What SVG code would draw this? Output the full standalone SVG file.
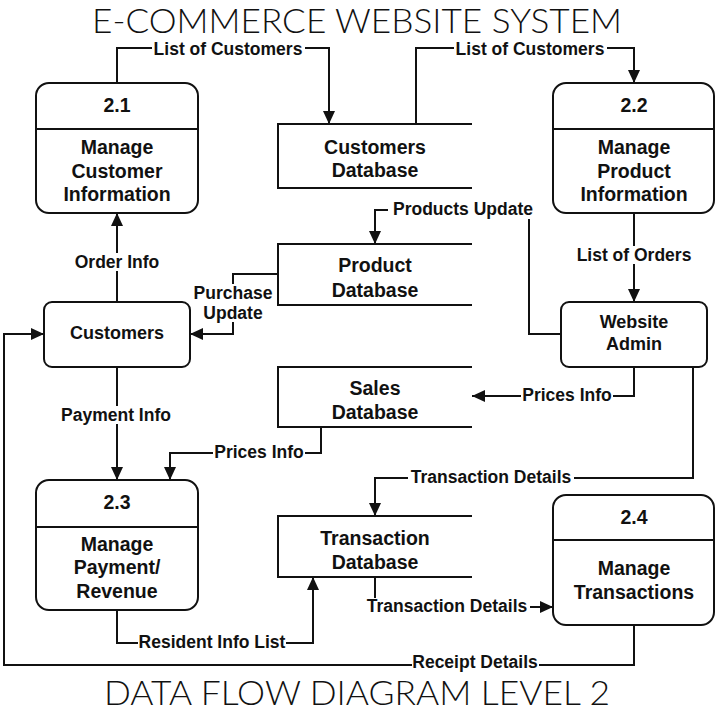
<svg xmlns="http://www.w3.org/2000/svg" width="720" height="720" viewBox="0 0 720 720">
<style>
.box{fill:#fff;stroke:#111;stroke-width:2}
.db{fill:none;stroke:#111;stroke-width:2}
.t{font-family:"Liberation Sans",Arial,sans-serif;font-weight:bold;font-size:19.5px;fill:#111;text-anchor:middle}
.e{font-size:18px}
.lbl{font-family:"Liberation Sans",Arial,sans-serif;font-weight:bold;font-size:17.5px;fill:#111;text-anchor:middle}
.bg{fill:#fff}
.c{fill:none;stroke:#111;stroke-width:2}
.title{font-family:Lato,"Open Sans","Noto Sans",sans-serif;font-weight:300;font-size:34px;fill:#111;text-anchor:middle}
</style>
<defs>
<marker id="ar" markerUnits="userSpaceOnUse" markerWidth="14" markerHeight="12" refX="13" refY="6" orient="auto">
<path d="M0,0 L13,6 L0,12 z" fill="#111"/>
</marker>
</defs>
<rect width="720" height="720" fill="#fff"/>
<text class="title" x="357" y="33" textLength="530" lengthAdjust="spacingAndGlyphs">E-COMMERCE WEBSITE SYSTEM</text>
<text class="title" x="357" y="705" textLength="506" lengthAdjust="spacingAndGlyphs">DATA FLOW DIAGRAM LEVEL 2</text>

<g id="connectors">
<path class="c" d="M117,83 V48 H329 V124" marker-end="url(#ar)"/>
<path class="c" d="M416,124 V48 H634 V83" marker-end="url(#ar)"/>
<path class="c" d="M561,334 H529 V210 H375 V244" marker-end="url(#ar)"/>
<path class="c" d="M634,213 V302" marker-end="url(#ar)"/>
<path class="c" d="M117,302 V213" marker-end="url(#ar)"/>
<path class="c" d="M278,274 H233 V334 H190" marker-end="url(#ar)"/>
<path class="c" d="M117,367 V480" marker-end="url(#ar)"/>
<path class="c" d="M634,367 V396 H472" marker-end="url(#ar)"/>
<path class="c" d="M321,427 V453 H170 V480" marker-end="url(#ar)"/>
<path class="c" d="M693,367 V478 H375 V516" marker-end="url(#ar)"/>
<path class="c" d="M375,577 V607 H553" marker-end="url(#ar)"/>
<path class="c" d="M117,610 V643 H313 V577" marker-end="url(#ar)"/>
<path class="c" d="M634,625 V665 H4 V334 H44" marker-end="url(#ar)"/>
<rect class="bg" x="152" y="40" width="153" height="17"/>
<rect class="bg" x="454" y="40" width="153" height="17"/>
<rect class="bg" x="388" y="202" width="150" height="17"/>
<rect class="bg" x="575" y="246" width="118" height="18"/>
<rect class="bg" x="73" y="253" width="88" height="18"/>
<rect class="bg" x="192" y="284" width="83" height="38"/>
<rect class="bg" x="60" y="406" width="113" height="18"/>
<rect class="bg" x="521" y="388" width="92" height="17"/>
<rect class="bg" x="213" y="445" width="92" height="17"/>
<rect class="bg" x="408" y="470" width="166" height="17"/>
<rect class="bg" x="364" y="598" width="166" height="18"/>
<rect class="bg" x="138" y="634" width="148" height="17"/>
<rect class="bg" x="412" y="655" width="127" height="17"/>
<text class="lbl" x="228" y="54.5">List of Customers</text>
<text class="lbl" x="530" y="54.5">List of Customers</text>
<text class="lbl" x="463" y="215">Products Update</text>
<text class="lbl" x="634" y="261">List of Orders</text>
<text class="lbl" x="117" y="268">Order Info</text>
<text class="lbl" x="233" y="299">Purchase</text>
<text class="lbl" x="233" y="319">Update</text>
<text class="lbl" x="116" y="421">Payment Info</text>
<text class="lbl" x="567" y="401">Prices Info</text>
<text class="lbl" x="259" y="458">Prices Info</text>
<text class="lbl" x="491" y="483">Transaction Details</text>
<text class="lbl" x="447" y="612">Transaction Details</text>
<text class="lbl" x="212" y="648">Resident Info List</text>
<text class="lbl" x="475" y="668">Receipt Details</text>
</g>

<g id="p21">
<rect class="box" x="36" y="83" width="162" height="130" rx="13"/>
<line class="db" x1="36" y1="129" x2="198" y2="129"/>
<text class="t" x="117" y="112">2.1</text>
<text class="t" x="117" y="154">Manage</text>
<text class="t" x="117" y="178">Customer</text>
<text class="t" x="117" y="201">Information</text>
</g>
<g id="p22">
<rect class="box" x="553" y="83" width="161" height="130" rx="13"/>
<line class="db" x1="553" y1="129" x2="714" y2="129"/>
<text class="t" x="634" y="112">2.2</text>
<text class="t" x="634" y="154">Manage</text>
<text class="t" x="634" y="178">Product</text>
<text class="t" x="634" y="201">Information</text>
</g>
<g id="p23">
<rect class="box" x="36" y="480" width="162" height="130" rx="13"/>
<line class="db" x1="36" y1="527" x2="198" y2="527"/>
<text class="t" x="117" y="509">2.3</text>
<text class="t" x="117" y="551">Manage</text>
<text class="t" x="117" y="574">Payment/</text>
<text class="t" x="117" y="598">Revenue</text>
</g>
<g id="p24">
<rect class="box" x="553" y="495" width="161" height="130" rx="13"/>
<line class="db" x1="553" y1="540" x2="714" y2="540"/>
<text class="t" x="634" y="524">2.4</text>
<text class="t" x="634" y="575">Manage</text>
<text class="t" x="634" y="599">Transactions</text>
</g>
<g id="customers">
<rect class="box" x="44" y="302" width="146" height="65" rx="8"/>
<text class="t e" x="117" y="339">Customers</text>
</g>
<g id="admin">
<rect class="box" x="561" y="302" width="146" height="65" rx="8"/>
<text class="t e" x="634" y="328">Website</text>
<text class="t e" x="634" y="350">Admin</text>
</g>
<g id="customersdb">
<path class="db" d="M472,124 H278 V188 H472"/>
<text class="t" x="375" y="154">Customers</text>
<text class="t" x="375" y="177">Database</text>
</g>
<g id="productdb">
<path class="db" d="M472,244 H278 V305 H472"/>
<text class="t" x="375" y="272">Product</text>
<text class="t" x="375" y="297">Database</text>
</g>
<g id="salesdb">
<path class="db" d="M472,367 H278 V427 H472"/>
<text class="t" x="375" y="395">Sales</text>
<text class="t" x="375" y="419">Database</text>
</g>
<g id="transactiondb">
<path class="db" d="M472,516 H278 V577 H472"/>
<text class="t" x="375" y="545">Transaction</text>
<text class="t" x="375" y="569">Database</text>
</g>
</svg>
